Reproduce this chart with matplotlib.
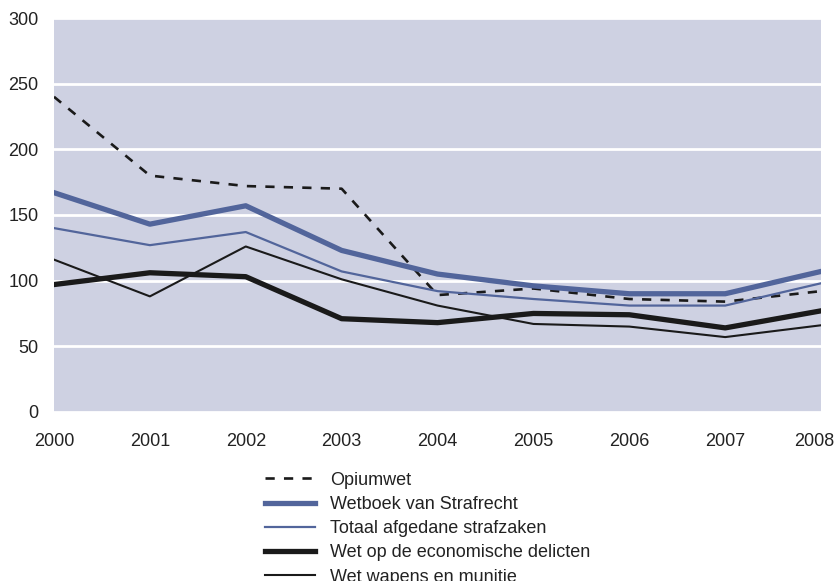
import numpy as np
import matplotlib.pyplot as plt
import matplotlib.transforms as mtransforms

years = [2000, 2001, 2002, 2003, 2004, 2005, 2006, 2007, 2008]

opiumwet = [240, 180, 172, 170, 89, 94, 86, 84, 92]
wetboek_sr = [167, 143, 157, 123, 105, 96, 90, 90, 107]
totaal = [140, 127, 137, 107, 92, 86, 81, 81, 98]
wet_econ = [97, 106, 103, 71, 68, 75, 74, 64, 77]
wapens = [116, 88, 126, 101, 81, 67, 65, 57, 66]

labels = [
    'Opiumwet',
    'Wetboek van Strafrecht',
    'Totaal afgedane strafzaken',
    'Wet op de economische delicten',
    'Wet wapens en munitie',
]

BLUE = '#52659b'
BLACK = '#1a1a1a'
BG = '#ced1e2'

plt.rcParams['font.family'] = ['Liberation Sans', 'DejaVu Sans']

fig = plt.figure(figsize=(8.37, 5.81), dpi=100)
ax = fig.add_axes([0.0645, 0.291, 0.9165, 0.678])
ax.set_facecolor(BG)

ax.plot(years, opiumwet, color=BLACK, lw=1.9, ls=(0, (3.5, 3.5)), label=labels[0])
ax.plot(years, wetboek_sr, color=BLUE, lw=3.8, label=labels[1])
ax.plot(years, totaal, color=BLUE, lw=1.6, label=labels[2])
ax.plot(years, wet_econ, color=BLACK, lw=3.8, label=labels[3])
ax.plot(years, wapens, color=BLACK, lw=1.5, label=labels[4])

ax.set_xlim(2000, 2008)
ax.set_ylim(0, 300)
ax.set_xticks(years)
ax.set_yticks(range(0, 301, 50))
ax.grid(axis='y', color='white', lw=2)
ax.set_axisbelow(True)
for s in ax.spines.values():
    s.set_visible(False)
ax.tick_params(length=0, labelsize=13, colors='#222222')
ax.tick_params(axis='x', pad=15)
ax.tick_params(axis='y', pad=11)

# last year label is nudged left so it stays inside the figure
last = ax.get_xticklabels()[-1]
last.set_transform(last.get_transform() + mtransforms.ScaledTranslation(-5 / 72, 0, fig.dpi_scale_trans))

leg = fig.legend(loc='upper left', bbox_to_anchor=(0.3166, 0.188), frameon=False,
                 fontsize=13, handlelength=2.78, handletextpad=0.8,
                 labelspacing=0.4, borderaxespad=0, borderpad=0)
for t in leg.get_texts():
    t.set_color('#222222')

fig.savefig('out.png', dpi=100)
